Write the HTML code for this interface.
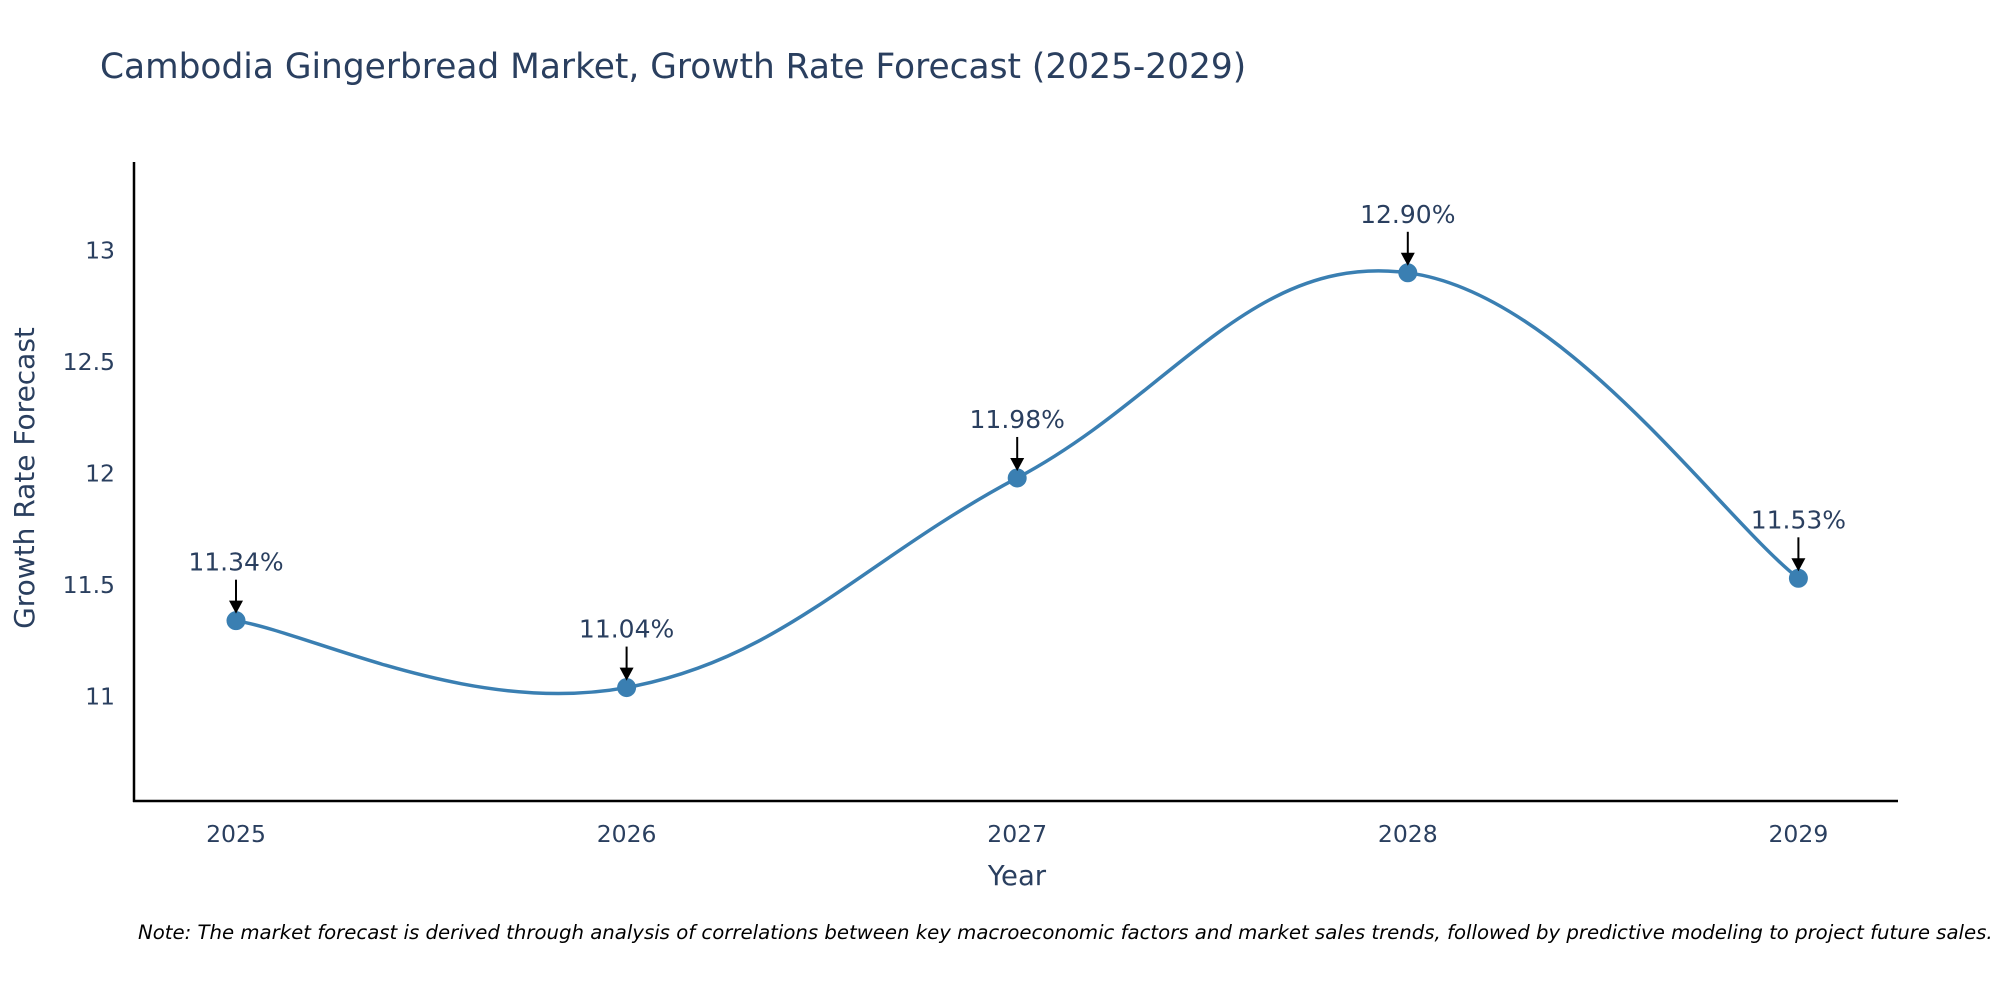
<!DOCTYPE html>
<html><head><meta charset="utf-8"><style>
html,body{margin:0;padding:0;background:#fff;overflow:hidden;}
svg text{font-family:"DejaVu Sans","Liberation Sans",sans-serif;fill:#2a3f5f;}
</style></head><body>
<svg id="chart" width="2000" height="1000" viewBox="0 0 2000 1000" xmlns="http://www.w3.org/2000/svg">
<text x="100" y="78" font-size="34.4">Cambodia Gingerbread Market, Growth Rate Forecast (2025-2029)</text>
<g id="axes"></g>
<g id="series"></g>
<text x="1017" y="885" font-size="27.5" text-anchor="middle">Year</text>
<text transform="translate(34,478) rotate(-90)" font-size="28" text-anchor="middle">Growth Rate Forecast</text>
<text x="138" y="939" font-size="19.7" font-style="italic" style="fill:#000">Note: The market forecast is derived through analysis of correlations between key macroeconomic factors and market sales trends, followed by predictive modeling to project future sales.</text>
</svg>
<script>
const years=[2025,2026,2027,2028,2029];
const values=[11.34,11.04,11.98,12.90,11.53];
const labels=["11.34%","11.04%","11.98%","12.90%","11.53%"];
const yTicks=[11,11.5,12,12.5,13];
const yTickLabels=["11","11.5","12","12.5","13"];

const NS="http://www.w3.org/2000/svg";
const L=134,R=1898,T=162,B=801;
const x=v=>236+(v-2025)*390.6;
const y=v=>696.5-(v-11)*223;
function mk(tag,attrs,parent){const e=document.createElementNS(NS,tag);for(const k in attrs)e.setAttribute(k,attrs[k]);parent.appendChild(e);return e;}
const axes=document.getElementById('axes'),ser=document.getElementById('series');
let a=mk('line',{x1:L,y1:T,x2:L,y2:B+1,stroke:'#000','stroke-width':2.5},axes);


a=mk('line',{x1:L-1,y1:B,x2:R,y2:B,stroke:'#000','stroke-width':2.5},axes);


yTicks.forEach((t,i)=>{const e=mk('text',{x:L-5-14,y:y(t)+8,'font-size':23.5,'text-anchor':'end'},axes);e.textContent=yTickLabels[i];

});
years.forEach(t=>{const e=mk('text',{x:x(t),y:B+41,'font-size':23.5,'text-anchor':'middle'},axes);e.textContent=String(t);

});
const pts=years.map((yr,i)=>[x(yr),y(values[i])]);
let d='M'+pts[0][0]+','+pts[0][1];
const k=0.2;
for(let i=0;i<pts.length-1;i++){const p0=pts[Math.max(0,i-1)],p1=pts[i],p2=pts[i+1],p3=pts[Math.min(pts.length-1,i+2)];
const c1=[p1[0]+(p2[0]-p0[0])*k,p1[1]+(p2[1]-p0[1])*k],c2=[p2[0]-(p3[0]-p1[0])*k,p2[1]-(p3[1]-p1[1])*k];
d+=' C'+c1+' '+c2+' '+p2;}
const line=mk('path',{d:d,fill:'none',stroke:'#3a7fb2','stroke-width':3.5},ser);


pts.forEach((p,i)=>{
const c=mk('circle',{cx:p[0],cy:p[1],r:9.5,fill:'#3a7fb2'},ser);


const l=mk('line',{x1:p[0],y1:p[1]-41,x2:p[0],y2:p[1]-18,stroke:'#000','stroke-width':2},ser);


const h=mk('polygon',{points:`${p[0]-7},${p[1]-20} ${p[0]+7},${p[1]-20} ${p[0]},${p[1]-7}`,fill:'#000'},ser);


const t=mk('text',{x:p[0],y:p[1]-50,'font-size':25,'text-anchor':'middle'},ser);t.textContent=labels[i];


});
</script>
</body></html>
